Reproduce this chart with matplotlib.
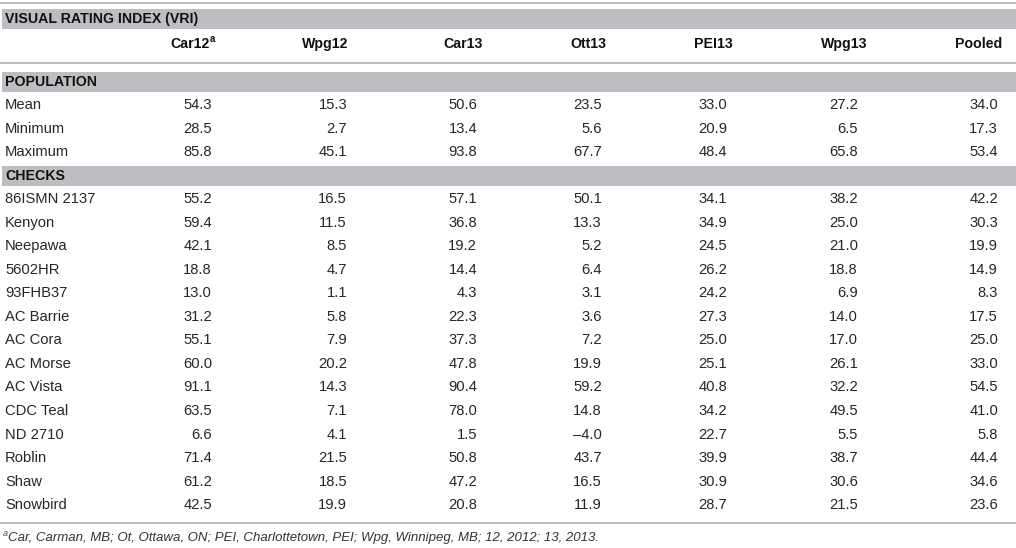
import matplotlib.pyplot as plt
from matplotlib.patches import Rectangle

plt.rcParams['font.family'] = ['Liberation Sans', 'DejaVu Sans']

columns = ['Car12', 'Wpg12', 'Car13', 'Ott13', 'PEI13', 'Wpg13', 'Pooled']

pop_labels = ['Mean', 'Minimum', 'Maximum']
pop_values = [
    [54.3, 15.3, 50.6, 23.5, 33.0, 27.2, 34.0],
    [28.5, 2.7, 13.4, 5.6, 20.9, 6.5, 17.3],
    [85.8, 45.1, 93.8, 67.7, 48.4, 65.8, 53.4],
]

check_labels = ['86ISMN 2137', 'Kenyon', 'Neepawa', '5602HR', '93FHB37', 'AC Barrie',
                'AC Cora', 'AC Morse', 'AC Vista', 'CDC Teal', 'ND 2710', 'Roblin',
                'Shaw', 'Snowbird']
check_values = [
    [55.2, 16.5, 57.1, 50.1, 34.1, 38.2, 42.2],
    [59.4, 11.5, 36.8, 13.3, 34.9, 25.0, 30.3],
    [42.1, 8.5, 19.2, 5.2, 24.5, 21.0, 19.9],
    [18.8, 4.7, 14.4, 6.4, 26.2, 18.8, 14.9],
    [13.0, 1.1, 4.3, 3.1, 24.2, 6.9, 8.3],
    [31.2, 5.8, 22.3, 3.6, 27.3, 14.0, 17.5],
    [55.1, 7.9, 37.3, 7.2, 25.0, 17.0, 25.0],
    [60.0, 20.2, 47.8, 19.9, 25.1, 26.1, 33.0],
    [91.1, 14.3, 90.4, 59.2, 40.8, 32.2, 54.5],
    [63.5, 7.1, 78.0, 14.8, 34.2, 49.5, 41.0],
    [6.6, 4.1, 1.5, -4.0, 22.7, 5.5, 5.8],
    [71.4, 21.5, 50.8, 43.7, 39.9, 38.7, 44.4],
    [61.2, 18.5, 47.2, 16.5, 30.9, 30.6, 34.6],
    [42.5, 19.9, 20.8, 11.9, 28.7, 21.5, 23.6],
]

footnote = ('Car, Carman, MB; Ot, Ottawa, ON; PEI, Charlottetown, PEI; '
            'Wpg, Winnipeg, MB; 12, 2012; 13, 2013.')

W, H = 1016, 548
fig = plt.figure(figsize=(W / 100, H / 100), dpi=100)
ax = fig.add_axes([0, 0, 1, 1])
ax.set_xlim(0, W)
ax.set_ylim(H, 0)
ax.axis('off')

band = '#bdbec1'
rule = '#b4b4b4'
txt = '#262626'
fs = 10.6
fsb = 10.2

# layout (pixels)
num_right = [212, 347, 477, 602, 727, 858, 998]
head_center = [None, 325, 463, 588, 713, 844, None]
x_label = 5
row_h = 23.6


def fmt(v):
    s = '%.1f' % abs(v)
    return ('\u2013' + s) if v < 0 else s


def band_row(y0, y1, label):
    ax.add_patch(Rectangle((2, y0), W - 2, y1 - y0, color=band, lw=0))
    ax.text(x_label, (y0 + y1) / 2 + 0.5, label, fontsize=fsb, fontweight='bold',
            color='#111111', va='center', ha='left')


def hline(y):
    ax.plot([0, W], [y, y], color=rule, lw=1.3, solid_capstyle='butt')


hline(3)
band_row(9, 29, 'VISUAL RATING INDEX (VRI)')

# column headers
hy = 44
ax.text(210, hy, columns[0], fontsize=fsb, fontweight='bold', color='#111111',
        va='center', ha='right')
ax.text(209.5, hy - 5, 'a', fontsize=7, fontweight='bold', color='#111111',
        va='center', ha='left')
for i in range(1, 6):
    ax.text(head_center[i], hy, columns[i], fontsize=fsb, fontweight='bold',
            color='#111111', va='center', ha='center')
ax.text(1002, hy, columns[6], fontsize=fsb, fontweight='bold', color='#111111',
        va='center', ha='right')

hline(62.5)
band_row(72, 92, 'POPULATION')


def data_row(y, label, vals):
    ax.text(x_label, y, label, fontsize=fs, color=txt, va='center', ha='left')
    for xr, v in zip(num_right, vals):
        ax.text(xr, y, fmt(v), fontsize=fs, color=txt, va='center', ha='right')


y = 105
for lab, vals in zip(pop_labels, pop_values):
    data_row(y, lab, vals)
    y += row_h

band_row(166, 186, 'CHECKS')
y = 199
for lab, vals in zip(check_labels, check_values):
    data_row(y, lab, vals)
    y += row_h - 0.05

hline(523)
ax.text(2.5, 533, 'a', fontsize=6.5, style='italic', color='#444444', va='center', ha='left')
ax.text(8.5, 537.5, footnote, fontsize=9.5, style='italic', color='#333333',
        va='center', ha='left')

fig.savefig('out.png', dpi=100)
